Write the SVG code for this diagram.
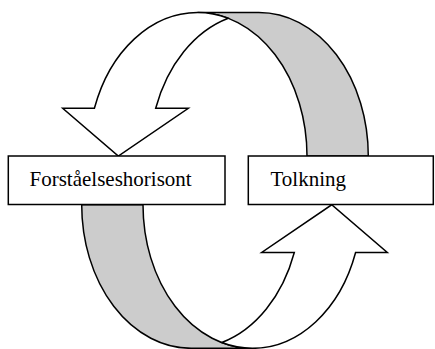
<svg xmlns="http://www.w3.org/2000/svg" xmlns:xlink="http://www.w3.org/1999/xlink" width="435" height="349" viewBox="0 0 435 349">
  <style>
    .ln { stroke: #000; stroke-width: 1.5; stroke-linejoin: miter; }
    .back { fill: #cccccc; }
    .front { fill: #ffffff; }
    .box { fill: #ffffff; stroke: #000; stroke-width: 1.5; }
    .lbl { font-family: "Liberation Serif", "Times New Roman", serif; font-size: 21px; fill: #000; }
  </style>
  <defs>
    <g id="curvedArrow">
      <path class="ln back" d="M 197.6 12.5 L 258.9 12.5 A 109.4 143.5 0 0 1 368.3 156 L 307 156 A 109.4 143.5 0 0 0 197.6 12.5 Z"/>
      <path class="ln front" d="M 197.6 12.5 A 109.4 143.5 0 0 0 94.4 108.3 L 62.7 108.3 L 118.3 156 L 188.3 108.3 L 155.7 108.3 A 109.4 143.5 0 0 1 228.25 18.25 A 109.4 143.5 0 0 0 197.6 12.5 Z"/>
    </g>
  </defs>
  <rect width="435" height="349" fill="#ffffff"/>
  <g id="connectors">
    <use xlink:href="#curvedArrow" href="#curvedArrow"/>
    <use xlink:href="#curvedArrow" href="#curvedArrow" transform="rotate(180 225 180.4)"/>
  </g>
  <g id="node-forstaelseshorisont">
    <rect class="box" x="8.3" y="156" width="216.7" height="48.5"/>
    <text class="lbl" x="29.5" y="185.7">Forståelseshorisont</text>
  </g>
  <g id="node-tolkning">
    <rect class="box" x="248.3" y="156" width="185" height="48.5"/>
    <text class="lbl" x="270.5" y="185.7">Tolkning</text>
  </g>
</svg>
